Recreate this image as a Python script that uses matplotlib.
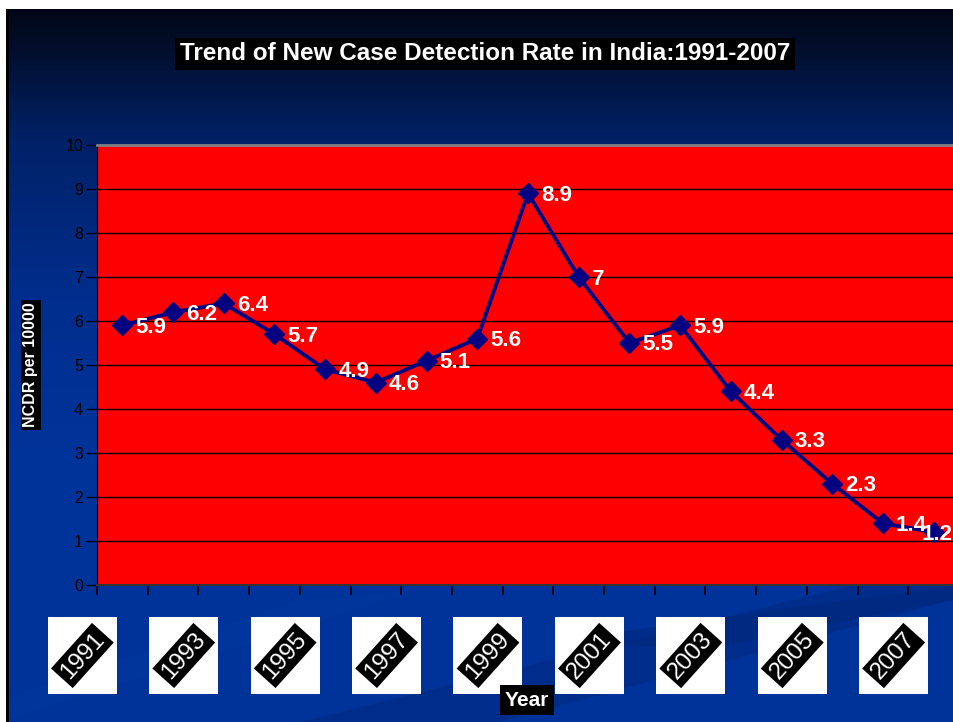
import matplotlib
matplotlib.use("Agg")
import matplotlib.pyplot as plt
import numpy as np
from matplotlib.patches import Rectangle, Polygon
from matplotlib.transforms import blended_transform_factory

years = list(range(1991, 2008))
ncdr = [5.9, 6.2, 6.4, 5.7, 4.9, 4.6, 5.1, 5.6, 8.9, 7.0, 5.5, 5.9, 4.4, 3.3, 2.3, 1.4, 1.2]
value_labels = ["5.9", "6.2", "6.4", "5.7", "4.9", "4.6", "5.1", "5.6", "8.9", "7",
                "5.5", "5.9", "4.4", "3.3", "2.3", "1.4", "1.2"]
tick_years = ["1991", "1993", "1995", "1997", "1999", "2001", "2003", "2005", "2007"]
yticks = list(range(0, 11))

plt.rcParams['font.family'] = ['Liberation Sans', 'DejaVu Sans']

W, H = 954, 722
fig = plt.figure(figsize=(W / 100, H / 100), dpi=100)

# ---- background ----
bg = fig.add_axes([0, 0, 1, 1])
bg.set_xlim(0, W)
bg.set_ylim(H, 0)
bg.axis('off')
stops = [(0, (2, 3, 22)), (20, (3, 8, 28)), (60, (1, 17, 52)), (140, (0, 33, 102)),
         (300, (0, 46, 142)), (450, (0, 51, 153)), (722, (0, 51, 153))]
ys = np.arange(H)
cols = np.zeros((H, 1, 3))
for c in range(3):
    cols[:, 0, c] = np.interp(ys, [s[0] for s in stops], [s[1][c] / 255 for s in stops])
bg.imshow(cols, extent=(0, W, H, 0), aspect='auto', zorder=0)
for poly, col in [([(300, 722), (954, 560), (954, 600), (500, 722)], (0, 0.16, 0.50)),
                  ([(560, 640), (954, 585), (954, 600), (700, 650)], (0, 0.15, 0.48)),
                  ([(0, 700), (300, 600), (420, 590), (0, 722)], (0.02, 0.22, 0.62))]:
    bg.add_patch(Polygon(poly, closed=True, facecolor=col, edgecolor='none', alpha=0.5, zorder=1))
bg.add_patch(Rectangle((0, 0), W, 9, facecolor='white', edgecolor='none', zorder=2))
bg.add_patch(Rectangle((0, 0), 6, H, facecolor='white', edgecolor='none', zorder=2))
bg.add_patch(Rectangle((6, 9), 3, H, facecolor='black', edgecolor='none', zorder=2))

# ---- main axes ----
left, right, top, bottom = 97, 959, 145, 585
ax = fig.add_axes([left / W, (H - bottom) / H, (right - left) / W, (bottom - top) / H])
ax.set_facecolor('#ff0000')
x = np.arange(len(years))
ax.set_xlim(-0.5, len(years) - 0.5)
ax.set_ylim(0, 10)
ax.set_yticks(yticks)
ax.set_yticklabels([str(v) for v in yticks], fontsize=11.5, color='black')
for yv in yticks[1:-1]:
    ax.axhline(yv, color='black', lw=1, zorder=1)
ax.set_xticks(np.arange(-0.5, len(years), 1.0))
ax.set_xticklabels([])
ax.tick_params(axis='x', direction='out', length=7, width=1.2, color='black')
ax.tick_params(axis='y', direction='out', length=8, width=1, color='black', pad=2)
ax.spines['top'].set_color('#808080')
ax.spines['top'].set_linewidth(2)
ax.spines['bottom'].set_color('#333333')
ax.spines['bottom'].set_linewidth(1.5)
ax.spines['left'].set_color('black')
ax.spines['right'].set_visible(False)

ax.plot(x, ncdr, color='#000080', lw=2.8, marker='D', markersize=10.5,
        markerfacecolor='#000080', markeredgecolor='#000080', zorder=3, clip_on=False)
for i, (xv, yv, lab) in enumerate(zip(x, ncdr, value_labels)):
    dx = 13 if i < len(x) - 1 else -12
    ax.annotate(lab, (xv, yv), xytext=(dx, -2), textcoords='offset pixels',
                ha='left', va='center', color='white', fontsize=16, fontweight='bold',
                zorder=4, annotation_clip=False)

# ---- x tick label boxes ----
tr = blended_transform_factory(ax.transData, fig.transFigure)
px_per_unit = (right - left) / len(years)
box_w = 69 / px_per_unit
y0 = (H - 694) / H
bh = 77 / H
for k, lab in enumerate(tick_years):
    cx = 2 * k - 40 / px_per_unit
    ax.add_patch(Rectangle((cx - box_w / 2, y0), box_w, bh, transform=tr,
                           facecolor='white', edgecolor='none', clip_on=False, zorder=5))
    ax.text(cx, y0 + bh / 2, lab, transform=tr, rotation=48, rotation_mode='anchor',
            ha='center', va='center', fontsize=17.5, color='white', zorder=6, clip_on=False,
            bbox=dict(boxstyle='square,pad=0.15', facecolor='black', edgecolor='none'))

# ---- titles ----
fig.text(485 / W, 1 - 54 / H, "Trend of New Case Detection Rate in India:1991-2007",
         ha='center', va='center', color='white', fontsize=17.5, fontweight='bold',
         bbox=dict(boxstyle='square,pad=0.18', facecolor='black', edgecolor='none'))
fig.text(31 / W, 1 - 365 / H, "NCDR per 10000", rotation=90, ha='center', va='center',
         color='white', fontsize=11.5, fontweight='bold',
         bbox=dict(boxstyle='square,pad=0.15', facecolor='black', edgecolor='none'))
fig.text(527 / W, 1 - 700 / H, "Year", ha='center', va='center', color='white',
         fontsize=15, fontweight='bold',
         bbox=dict(boxstyle='square,pad=0.25', facecolor='black', edgecolor='none'))

fig.savefig("out.png", dpi=100)
